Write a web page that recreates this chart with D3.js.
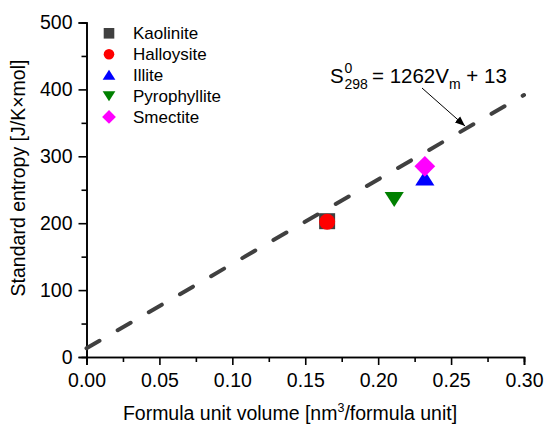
<!DOCTYPE html>
<html>
<head>
<meta charset="utf-8">
<script src="https://cdn.jsdelivr.net/npm/d3@7"></script>
<style>
body { margin: 0; background: #fff; }
text { font-family: "Liberation Sans", Arial, sans-serif; fill: #000; }
</style>
</head>
<body>
<script>
var w = 547, h = 430;

// data
var minerals = ["Kaolinite", "Halloysite", "Illite", "Pyrophyllite", "Smectite"];
var volumes = [0.165, 0.165, 0.232, 0.211, 0.232];
var entropies = [203, 202, 267, 236, 285];
var colors = ["#404040", "#ff0000", "#0000ff", "#008000", "#ff00ff"];
var shapes = ["square", "circle", "triangle", "triangleDown", "diamond"];

var xTicks = [0, 0.05, 0.10, 0.15, 0.20, 0.25, 0.30];
var yTicks = [0, 100, 200, 300, 400, 500];
var fitSlope = 1262, fitIntercept = 13;

var svg = d3.select("body").append("svg")
    .attr("width", w).attr("height", h);

var x = d3.scaleLinear().domain([0, 0.30]).range([86.5, 524]);
var y = d3.scaleLinear().domain([0, 500]).range([357, 22.5]);

// axes
var xAxis = svg.append("g").attr("transform", "translate(0," + y(0) + ")")
    .call(d3.axisBottom(x).tickValues(xTicks).tickFormat(d3.format(".2f")).tickSizeOuter(0).tickSize(8).tickPadding(5));
var xMinor = svg.append("g").attr("transform", "translate(0," + y(0) + ")")
    .call(d3.axisBottom(x).tickValues(d3.range(0.025, 0.3, 0.05)).tickFormat("").tickSizeOuter(0).tickSize(5));
var yAxis = svg.append("g").attr("transform", "translate(" + x(0) + ",0)")
    .call(d3.axisLeft(y).tickValues(yTicks).tickSizeOuter(0).tickSize(8).tickPadding(6));
var yMinor = svg.append("g").attr("transform", "translate(" + x(0) + ",0)")
    .call(d3.axisLeft(y).tickValues(d3.range(50, 500, 100)).tickFormat("").tickSizeOuter(0).tickSize(5));

svg.selectAll(".domain").attr("stroke", "#000").attr("stroke-width", 1.6);
svg.selectAll(".tick line").attr("stroke", "#000").attr("stroke-width", 1.6);
svg.selectAll(".tick text").attr("font-size", 19.5).attr("font-family", "Liberation Sans, Arial, sans-serif").attr("fill", "#000");
xAxis.selectAll(".tick text").attr("dy", "0.85em");

// axis titles
svg.append("text")
    .attr("transform", "translate(25," + 178 + ") rotate(-90)")
    .attr("text-anchor", "middle")
    .attr("font-size", 19.5)
    .text("Standard entropy [J/K\u00d7mol]");

var xt = svg.append("text")
    .attr("x", 290).attr("y", 420)
    .attr("text-anchor", "middle")
    .attr("font-size", 19.5);
xt.append("tspan").text("Formula unit volume [nm");
xt.append("tspan").attr("font-size", 12.5).attr("dy", -8).text("3");
xt.append("tspan").attr("dy", 8).text("/formula unit]");

// fit line
var fitPts = [0, 0.30].map(function(v) { return [v, fitSlope * v + fitIntercept]; });
svg.append("path")
    .attr("d", d3.line().x(function(d) { return x(d[0]); }).y(function(d) { return y(d[1]); })(fitPts))
    .attr("fill", "none")
    .attr("stroke", "#404040")
    .attr("stroke-width", 4)
    .attr("stroke-linecap", "round")
    .attr("stroke-dasharray", "15,21");

// symbols
var symbolPath = function(shape, r) {
    var p = d3.path();
    if (shape == "square") {
        p.rect(-r, -r, 2 * r, 2 * r);
    } else if (shape == "circle") {
        p.arc(0, 0, r, 0, 2 * Math.PI);
    } else if (shape == "triangle") {
        p.moveTo(0, -r * 1.0); p.lineTo(r * 1.2, r * 0.9); p.lineTo(-r * 1.2, r * 0.9); p.closePath();
    } else if (shape == "triangleDown") {
        p.moveTo(0, r * 1.0); p.lineTo(r * 1.2, -r * 0.9); p.lineTo(-r * 1.2, -r * 0.9); p.closePath();
    } else if (shape == "diamond") {
        p.moveTo(0, -r * 1.3); p.lineTo(r * 1.3, 0); p.lineTo(0, r * 1.3); p.lineTo(-r * 1.3, 0); p.closePath();
    }
    return p.toString();
};

svg.selectAll(".pt")
    .data(minerals)
    .enter()
    .append("path")
    .attr("class", "pt")
    .attr("transform", function(d, i) { return "translate(" + x(volumes[i]) + "," + y(entropies[i]) + ")"; })
    .attr("d", function(d, i) { return symbolPath(shapes[i], 8); })
    .attr("fill", function(d, i) { return colors[i]; });

// legend
var leg = svg.selectAll(".leg")
    .data(minerals)
    .enter()
    .append("g")
    .attr("class", "leg")
    .attr("transform", function(d, i) { return "translate(109," + (33.3 + i * 20.9) + ")"; });
leg.append("path")
    .attr("d", function(d, i) { return symbolPath(shapes[i], 5.3); })
    .attr("fill", function(d, i) { return colors[i]; });
leg.append("text")
    .attr("x", 24).attr("dy", "0.36em")
    .attr("font-size", 17)
    .text(function(d) { return d; });

// equation annotation
var eq = svg.append("g").attr("font-size", 20.5);
eq.append("text").attr("x", 330).attr("y", 83).text("S");
eq.append("text").attr("x", 344.5).attr("y", 73).attr("font-size", 14).text("0");
eq.append("text").attr("x", 344.5).attr("y", 89).attr("font-size", 14).text("298");
var eq2 = eq.append("text").attr("x", 372).attr("y", 83);
eq2.append("tspan").text("= 1262V");
eq2.append("tspan").attr("font-size", 14).attr("dy", 6).text("m");
eq2.append("tspan").attr("dy", -6).text(" + 13");

svg.append("defs").append("marker")
    .attr("id", "arr")
    .attr("viewBox", "0 0 10 10")
    .attr("refX", 10).attr("refY", 5)
    .attr("markerWidth", 10).attr("markerHeight", 10)
    .attr("markerUnits", "userSpaceOnUse")
    .attr("orient", "auto")
    .append("path")
    .attr("d", "M0,1 L10,5 L0,9 Z")
    .attr("fill", "#000");

svg.append("line")
    .attr("x1", 422).attr("y1", 88)
    .attr("x2", 465).attr("y2", 126)
    .attr("stroke", "#000").attr("stroke-width", 1)
    .attr("marker-end", "url(#arr)");
</script>
</body>
</html>
